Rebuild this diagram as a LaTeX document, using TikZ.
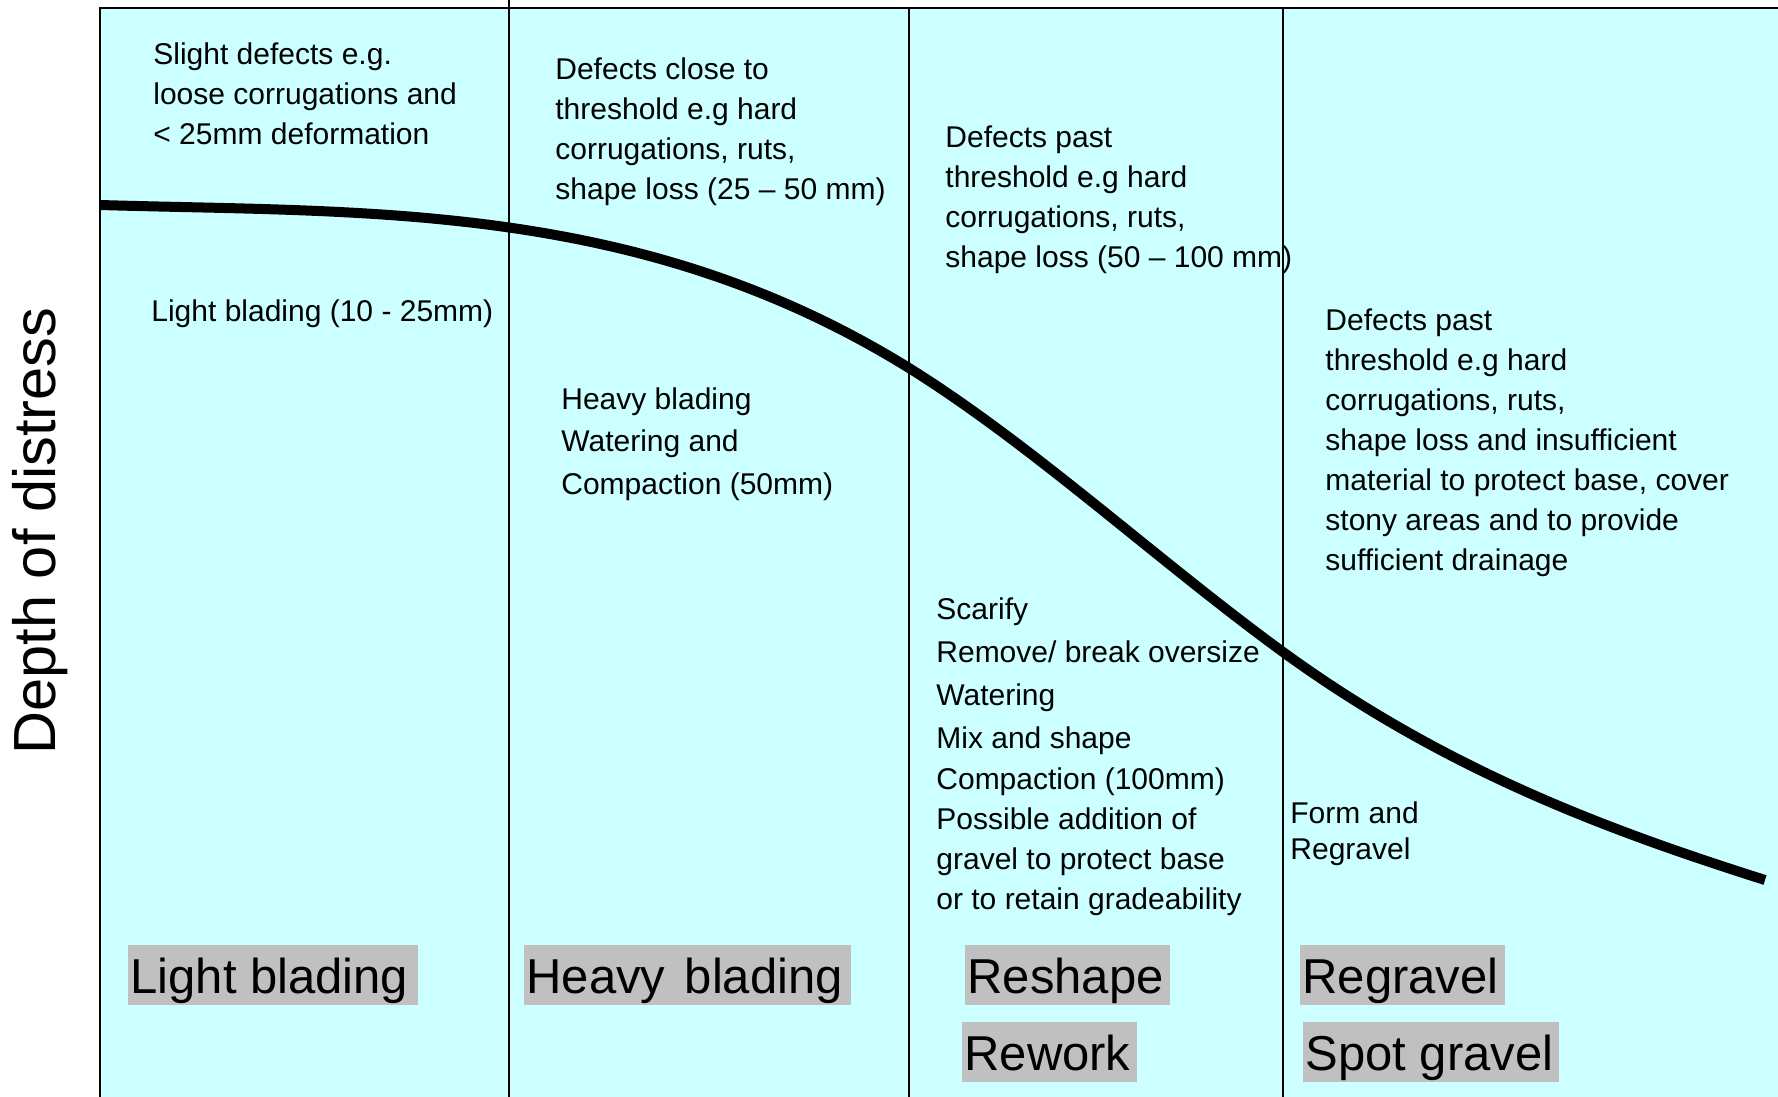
\documentclass[tikz,border=0pt]{standalone}
\usepackage{fontspec}
\setmainfont{Liberation Sans}
\definecolor{bgcyan}{HTML}{CCFFFF}
\definecolor{boxgray}{HTML}{C0C0C0}
\begin{document}
\begin{tikzpicture}[x=0.5pt,y=-0.5pt,
  txt/.style={anchor=north west,inner sep=0pt,align=left,font=\fontsize{15}{20}\selectfont},
  biglabel/.style={anchor=north west,fill=boxgray,inner xsep=1pt,inner ysep=0pt,text height=24pt,text depth=6pt,font=\fontsize{24.5}{28}\selectfont},
  frame/.style={line width=0.8pt,black}]
\useasboundingbox (0,0) rectangle (1778,1097);
\fill[white] (0,0) rectangle (1778,1097);
\fill[bgcyan] (100,8) rectangle (1778,1097);
\draw[frame] (100,1097) -- (100,8) -- (1778,8);
\draw[frame] (509,0) -- (509,1097);
\draw[frame] (909,8) -- (909,1097);
\draw[frame] (1283,8) -- (1283,1097);
% y axis label
\node[rotate=90,inner sep=0pt,font=\fontsize{29.75}{34}\selectfont] (ylab) at (40,531) {Depth of distress};
% curve
\coordinate (cA) at (100,205);
\coordinate (cB) at (909,368);
\coordinate (cC) at (1283,652);
\coordinate (cD) at (1765,880);
\draw[line width=5pt] (cA) .. controls (370,213) and (639,201) .. (cB)
  .. controls (1034,446) and (1158,561) .. (cC)
  .. controls (1444,769) and (1604,829) .. (cD);
% column 1
\node[txt] (b1) at (153,42) {Slight defects e.g.\\loose corrugations and\\< 25mm deformation};
\node[txt] (lb) at (151,299) {Light blading (10 - 25mm)};
% column 2
\node[txt] (b2) at (555,57) {Defects close to\\threshold e.g hard\\corrugations, ruts,\\shape loss (25 – 50 mm)};
\node[txt] (hb) at (561,387) {Heavy blading\\[1.25pt]Watering and\\[1.25pt]Compaction (50mm)};
% column 3
\node[txt] (b3) at (945,125) {Defects past\\threshold e.g hard\\corrugations, ruts,\\shape loss (50 – 100 mm)};
\node[txt] (b3l) at (936,597) {Scarify\\[1.5pt]Remove/ break oversize\\[1.5pt]Watering\\[1.5pt]Mix and shape\\[0.5pt]Compaction (100mm)\\Possible addition of\\gravel to protect base\\or to retain gradeability};
% column 4
\node[txt] (b4) at (1325,308) {Defects past\\threshold e.g hard\\corrugations, ruts,\\shape loss and insufficient\\material to protect base, cover\\stony areas and to provide\\sufficient drainage};
\node[txt,font=\fontsize{15}{18}\selectfont] (fr) at (1290,801) {Form and\\Regravel};
% big labels
\node[biglabel] (l1) at (128,945) {Light blading\kern4pt};
\node[biglabel] (l2) at (524,945) {Heavy\hspace{3pt} blading\kern3pt};
\node[biglabel] (l3) at (965,945) {Reshape\kern2pt};
\node[biglabel] (l4) at (962,1022) {Rework\kern2pt};
\node[biglabel] (l5) at (1300,945) {Regravel\kern2pt};
\node[biglabel] (l6) at (1303,1022) {Spot gravel\kern2pt};
\end{tikzpicture}
\end{document}
